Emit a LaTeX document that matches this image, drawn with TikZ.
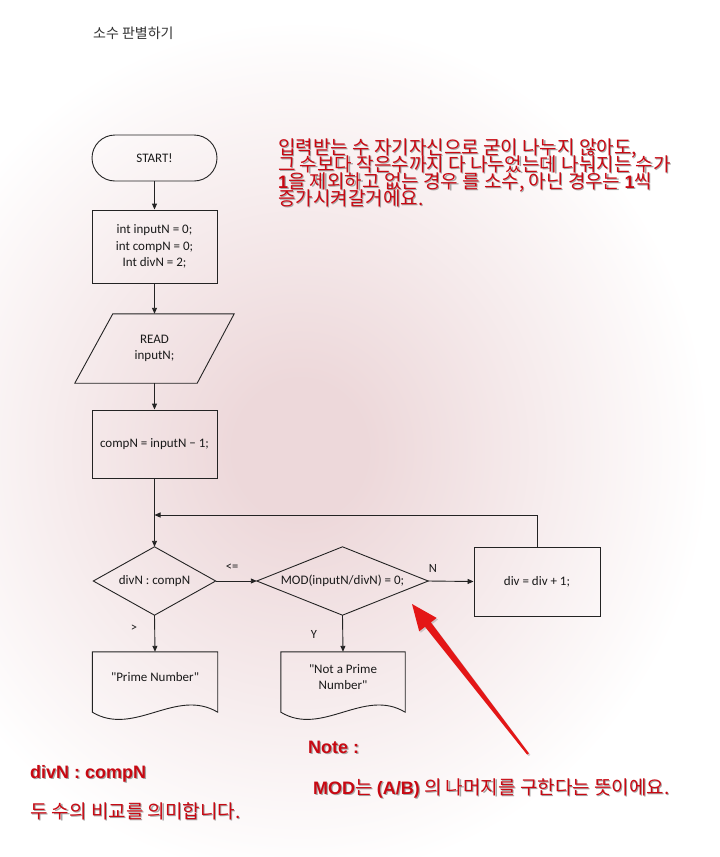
\documentclass[tikz,border=0pt]{standalone}
\usepackage{fontspec}
\setmainfont{Carlito}
\newfontfamily\fcfont{Carlito}
\newfontfamily\krfont{Noto Sans CJK KR}
\newfontfamily\krred{Noto Sans CJK KR}
\newfontfamily\arfont{Liberation Sans}
\newcommand\arb{\arfont\bfseries}
\usetikzlibrary{arrows.meta,shadows}
\definecolor{txtred}{RGB}{200,8,18}
\definecolor{arred}{RGB}{228,22,22}
\definecolor{bgpink}{RGB}{237,216,218}
\definecolor{lc}{RGB}{35,35,35}
\pgfdeclareradialshading{bgshade}{\pgfpoint{0bp}{0bp}}{color(0bp)=(bgpink); color(4bp)=(bgpink); color(25bp)=(white); color(50bp)=(white)}
\newcommand\shd[1]{\leavevmode\rlap{\kern1.2pt\raisebox{-1.4pt}{\textcolor{black!35}{#1}}}\textcolor{txtred}{#1}}
\tikzset{
  fc/.style={font=\fcfont\fontsize{13}{16.5}\selectfont, align=center, inner sep=0pt, text=black!90},
  boxn/.style={fc, draw=lc, line width=0.9pt, minimum width=125pt, minimum height=#1},
  shapeline/.style={draw=lc, line width=0.9pt},
  arr/.style={draw=lc, line width=0.9pt, -{Triangle[length=6pt,width=5pt]}},
  lbl/.style={font=\fcfont\fontsize{12.5}{14}\selectfont, inner sep=0pt, text=black!90},
  redkr/.style={font=\krred\fontsize{19}{17}\selectfont, inner sep=0pt, anchor=base west},
  redlat/.style={font=\arb\fontsize{18}{18}\selectfont, inner sep=0pt, anchor=base west},
}
\begin{document}
\begin{tikzpicture}[x=1pt,y=-1pt]
\useasboundingbox (0,0) rectangle (720,857);
% background
\begin{scope}
\clip (0,0) rectangle (720,857);
\fill[white] (0,0) rectangle (720,857);
\shade[shading=bgshade] (300,450) ellipse [x radius=410pt, y radius=430pt];
\end{scope}

% title
\node[font=\krfont\fontsize{14}{15}\selectfont, text=black!80, anchor=west, inner sep=0pt] (title) at (93,33) {소수 판별하기};

% flowchart nodes
\node[boxn=46pt, rounded corners=23pt] (start) at (154.5,158) {START!};
\node[boxn=73pt] (init) at (154.5,246.5) {int inputN = 0;\\int compN = 0;\\Int divN = 2;};
\node[fc, minimum width=121pt, minimum height=69pt] (read) at (154.5,348.5) {READ\\inputN;};
\draw[shapeline] ([xshift=19pt]read.north west) -- ([xshift=19pt]read.north east)
  -- ([xshift=-18pt]read.south east) -- ([xshift=-19pt]read.south west) -- cycle;
\node[boxn=68pt] (comp) at (154.5,444) {compN = inputN − 1;};
\node[fc, minimum width=122pt, minimum height=68pt] (d1) at (154.5,581) {divN : compN};
\draw[shapeline] (d1.north) -- (d1.east) -- (d1.south) -- (d1.west) -- cycle;
\node[fc, minimum width=171pt, minimum height=68pt] (d2) at (342.5,581) {MOD(inputN/divN) = 0;};
\draw[shapeline] (d2.north) -- (d2.east) -- (d2.south) -- (d2.west) -- cycle;
\node[boxn=69pt, minimum width=126pt] (inc) at (537,581.5) {div = div + 1;};
\node[fc, minimum width=125pt, minimum height=50pt] (prime) at (155,677) {"Prime Number"};
\draw[shapeline] (prime.north west) -- (prime.north east) -- ([yshift=-10pt]prime.south east)
  .. controls +(-41.7,-25) and +(41.7,25) .. ([yshift=-10pt]prime.south west) -- cycle;
\node[fc, minimum width=124pt, minimum height=50pt] (np) at (343,677) {"Not a Prime\\Number"};
\draw[shapeline] (np.north west) -- (np.north east) -- ([yshift=-10pt]np.south east)
  .. controls +(-41.3,-25) and +(41.3,25) .. ([yshift=-10pt]np.south west) -- cycle;

% connectors
\coordinate (loopj) at (154.5,515);
\draw[arr] (start.south) -- (init.north);
\draw[arr] (init.south) -- (read.north);
\draw[arr] (read.south) -- (comp.north);
\draw[arr] (comp.south) -- (d1.north);
\draw[arr] (inc.north) |- (loopj);
\draw[arr] (d1.east) -- (d2.west);
\draw[arr] (d2.east) -- (inc.west);
\draw[arr] (d1.south) -- (prime.north);
\draw[arr] (d2.south) -- (np.north);

% connector labels
\node[lbl] (lle) at (232,567) {<=};
\node[lbl] (lN) at (433,568) {N};
\node[lbl] (lgt) at (134,628) {>};
\node[lbl] (lY) at (314,634) {Y};

% red annotation text (top right)
\node[redkr] (p1) at (278,154) {\shd{입력받는 수 자기자신으로 굳이 나누지 않아도,}};
\node[redkr] (p2) at (278,171) {\shd{그 수보다 작은수까지 다 나누었는데 나눠지는 수가}};
\node[redkr] (p3) at (278,188) {\shd{{\arb\fontsize{18}{17}\selectfont 1}을 제외하고 없는 경우 를 소수, 아닌 경우는 {\arb\fontsize{18}{17}\selectfont 1}씩}};
\node[redkr] (p4) at (278,205) {\shd{증가시켜갈거에요.}};

% red arrow
\coordinate (rtail) at (528,754);
\coordinate (rtip) at (412,604);
\fill[arred, drop shadow={opacity=0.35, shadow xshift=1.5pt, shadow yshift=-1.5pt}]
  (rtail) -- (528.9,753.3) -- (430.9,622.4) -- (436.6,617.9) -- (rtip)
  -- (419.2,631.3) -- (425.0,626.8) -- (527.2,754.7) -- cycle;

% bottom notes
\node[redlat] (note) at (308,753) {\shd{Note :}};
\node[redkr] (mod) at (313,794) {\shd{{\arb\fontsize{18}{17}\selectfont MOD}는 {\arb\fontsize{18}{17}\selectfont (A/B)} 의 나머지를 구한다는 뜻이에요.}};
\node[redlat] (dc) at (30,778.5) {\shd{divN : compN}};
\node[redkr] (cmp) at (30,818) {\shd{두 수의 비교를 의미합니다.}};
\end{tikzpicture}
\end{document}
